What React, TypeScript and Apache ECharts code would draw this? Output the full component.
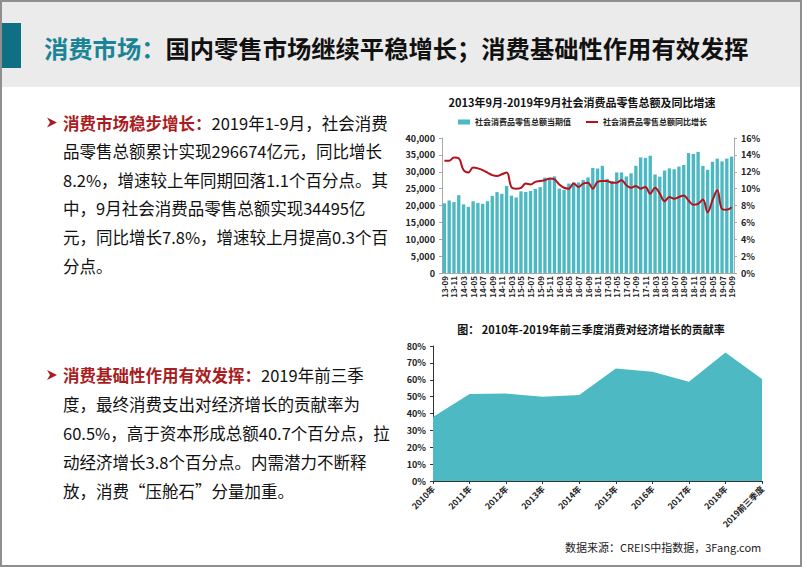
import React, { useEffect, useRef } from "react";
import * as echarts from "echarts";

const FONT = "'Noto Sans CJK SC', 'Microsoft YaHei', sans-serif";

const months = [
  "13-09", "13-10", "13-11", "13-12",
  "14-03", "14-04", "14-05", "14-06", "14-07", "14-08", "14-09", "14-10", "14-11", "14-12",
  "15-03", "15-04", "15-05", "15-06", "15-07", "15-08", "15-09", "15-10", "15-11", "15-12",
  "16-03", "16-04", "16-05", "16-06", "16-07", "16-08", "16-09", "16-10", "16-11", "16-12",
  "17-03", "17-04", "17-05", "17-06", "17-07", "17-08", "17-09", "17-10", "17-11", "17-12",
  "18-03", "18-04", "18-05", "18-06", "18-07", "18-08", "18-09", "18-10", "18-11", "18-12",
  "19-03", "19-04", "19-05", "19-06", "19-07", "19-08", "19-09",
];

const retailValues = [
  20653, 21491, 21012, 23060,
  20339, 19592, 21250, 20781, 20501, 21282, 22850, 23967, 23475, 25801,
  22917, 22386, 24195, 24000, 24308, 24893, 25451, 28278, 27937, 28635,
  25000, 24646, 26511, 26857, 26827, 27540, 28333, 31119, 30959, 31757,
  27864, 27278, 29805, 29808, 28611, 29540, 31764, 34240, 34108, 34734,
  29194, 28542, 30359, 31000, 30734, 31542, 32005, 35534, 35260, 35893,
  31726, 30586, 32956, 33878, 33073, 33896, 34495,
];

const yoyGrowth = [
  13.3, 13.3, 13.7, 13.6,
  12.2, 11.9, 12.5, 12.4, 12.2, 11.9, 11.6, 11.5, 11.7, 11.9,
  10.2, 10.0, 10.1, 10.6, 10.5, 10.8, 10.9, 11.0, 11.2, 11.1,
  10.5, 10.1, 10.0, 10.6, 10.2, 10.6, 10.7, 10.0, 10.8, 10.9,
  10.9, 10.7, 10.7, 11.0, 10.4, 10.1, 10.3, 10.0, 10.2, 9.4,
  10.1, 9.4, 8.5, 9.0, 8.8, 9.0, 9.2, 8.6, 8.1, 8.2,
  8.7, 7.2, 8.6, 9.8, 7.6, 7.5, 7.8,
];

const years = ["2010年", "2011年", "2012年", "2013年", "2014年", "2015年", "2016年", "2017年", "2018年", "2019前三季度"];
const contribution = [38.0, 51.6, 51.8, 50.0, 50.9, 66.6, 64.7, 58.8, 76.2, 60.5];

const barName = "社会消费品零售总额当期值";
const lineName = "社会消费品零售总额同比增长";

const headerTitleA = "消费市场：";
const headerTitleB = "国内零售市场继续平稳增长；消费基础性作用有效发挥";

const para1Head = "消费市场稳步增长：";
const para1Lines = [
  "2019年1-9月，社会消费",
  "品零售总额累计实现296674亿元，同比增长",
  "8.2%，增速较上年同期回落1.1个百分点。其",
  "中，9月社会消费品零售总额实现34495亿",
  "元，同比增长7.8%，增速较上月提高0.3个百",
  "分点。",
];
const para2Head = "消费基础性作用有效发挥：";
const para2Lines = [
  "2019年前三季",
  "度，最终消费支出对经济增长的贡献率为",
  "60.5%，高于资本形成总额40.7个百分点，拉",
  "动经济增长3.8个百分点。内需潜力不断释",
  "放，消费“压舱石”分量加重。",
];

const chart1Title = "2013年9月-2019年9月社会消费品零售总额及同比增速";
const chart2Title = "图： 2010年-2019年前三季度消费对经济增长的贡献率";
const sourceText = "数据来源：CREIS中指数据，3Fang.com";

const RED = "#a81c22";
const TEAL_BAR = "#4bb9c3";

function paragraph(head: string, lines: string[], y0: number, lh: number) {
  const els: any[] = [];
  els.push({
    type: "polygon",
    shape: {
      points: [
        [47, y0 - 5],
        [57, y0],
        [47, y0 + 5],
        [50, y0],
      ],
    },
    style: { fill: RED },
  });
  lines.forEach((ln, i) => {
    if (i === 0) {
      els.push({
        type: "text",
        x: 63,
        y: y0,
        style: {
          text: "{h|" + head + "}{b|" + ln + "}",
          verticalAlign: "middle",
          rich: {
            h: { fontFamily: FONT, fontSize: 16.5, fontWeight: "bold", fill: RED, color: RED },
            b: { fontFamily: FONT, fontSize: 16.5, fill: "#111", color: "#111" },
          },
        },
      });
    } else {
      els.push({
        type: "text",
        x: 63,
        y: y0 + i * lh,
        style: { text: ln, fill: "#111", fontFamily: FONT, fontSize: 16.5, verticalAlign: "middle" },
      });
    }
  });
  return els;
}

export default function App() {
  const ref = useRef<HTMLDivElement>(null);
  useEffect(() => {
    if (!ref.current) return;
    const chart = echarts.init(ref.current, undefined, { renderer: "svg" });
    const axisLbl = { fontFamily: FONT, fontSize: 9, fontWeight: "bold", color: "#222" };
    const graphics: any[] = [
      { type: "rect", z: -5, shape: { x: 0, y: 0, width: 802, height: 87 }, style: { fill: "#ebebeb" } },
      { type: "rect", shape: { x: 1, y: 23, width: 20, height: 45 }, style: { fill: "#0f6f83" } },
      {
        type: "text",
        x: 44,
        y: 47,
        style: {
          text: "{a|" + headerTitleA + "}{b|" + headerTitleB + "}",
          verticalAlign: "middle",
          rich: {
            a: { fontFamily: FONT, fontSize: 24.3, fontWeight: "bold", fill: "#1a8396", color: "#1a8396" },
            b: { fontFamily: FONT, fontSize: 24.3, fontWeight: "bold", fill: "#111", color: "#111" },
          },
        },
      },
      { type: "rect", shape: { x: 1, y: 1, width: 800, height: 565 }, style: { fill: "none", stroke: "#8f8f8f", lineWidth: 2 } },
      ...paragraph(para1Head, para1Lines, 122.5, 28.6),
      ...paragraph(para2Head, para2Lines, 375, 29),
      {
        type: "text",
        x: 582,
        y: 102,
        style: { text: chart1Title, fill: "#111", fontFamily: FONT, fontSize: 11, fontWeight: "bold", align: "center", verticalAlign: "middle" },
      },
      {
        type: "text",
        x: 591,
        y: 328.5,
        style: { text: chart2Title, fill: "#111", fontFamily: FONT, fontSize: 11, fontWeight: "bold", align: "center", verticalAlign: "middle" },
      },
      {
        type: "text",
        x: 565,
        y: 547,
        style: { text: sourceText, fill: "#222", fontFamily: FONT, fontSize: 11, verticalAlign: "middle" },
      },
    ];

    const option: any = {
      animation: false,
      backgroundColor: "#ffffff",
      textStyle: { fontFamily: FONT },
      graphic: graphics,
      legend: [
        {
          left: 458,
          top: 118,
          padding: 0,
          itemWidth: 12,
          itemHeight: 5,
          icon: "rect",
          data: [barName],
          textStyle: { fontFamily: FONT, fontSize: 8, fontWeight: "bold", color: "#222" },
        },
        {
          left: 586,
          top: 118,
          padding: 0,
          itemWidth: 12,
          itemHeight: 2,
          icon: "rect",
          data: [lineName],
          textStyle: { fontFamily: FONT, fontSize: 8, fontWeight: "bold", color: "#222" },
        },
      ],
      grid: [
        { left: 442, top: 138, width: 292, height: 135 },
        { left: 433, top: 346, width: 329, height: 135 },
      ],
      xAxis: [
        {
          type: "category",
          gridIndex: 0,
          data: months,
          axisLine: { lineStyle: { color: "#aaa" } },
          axisTick: { interval: 0, length: 2, lineStyle: { color: "#aaa" } },
          axisLabel: { ...axisLbl, fontSize: 8, interval: 1, rotate: 90, margin: 3 },
        },
        {
          type: "category",
          gridIndex: 1,
          data: years,
          boundaryGap: false,
          axisLine: { lineStyle: { color: "#333" } },
          axisTick: { interval: 0, length: 3, lineStyle: { color: "#333" } },
          axisLabel: { ...axisLbl, fontSize: 8.5, interval: 0, rotate: 45, margin: 6 },
        },
      ],
      yAxis: [
        {
          type: "value",
          gridIndex: 0,
          min: 0,
          max: 40000,
          interval: 5000,
          splitLine: { show: false },
          axisLine: { show: true, lineStyle: { color: "#aaa" } },
          axisTick: { show: true, length: 3, lineStyle: { color: "#aaa" } },
          axisLabel: { ...axisLbl, margin: 7 },
        },
        {
          type: "value",
          gridIndex: 0,
          position: "right",
          min: 0,
          max: 16,
          interval: 2,
          splitLine: { show: false },
          axisLine: { show: true, lineStyle: { color: "#aaa" } },
          axisTick: { show: true, length: 3, lineStyle: { color: "#aaa" } },
          axisLabel: { ...axisLbl, margin: 7, formatter: "{value}%" },
        },
        {
          type: "value",
          gridIndex: 1,
          min: 0,
          max: 80,
          interval: 10,
          splitLine: { show: false },
          axisLine: { show: true, lineStyle: { color: "#333" } },
          axisTick: { show: true, length: 3, lineStyle: { color: "#333" } },
          axisLabel: { ...axisLbl, margin: 7, formatter: "{value}%" },
        },
      ],
      series: [
        {
          type: "bar",
          name: barName,
          xAxisIndex: 0,
          yAxisIndex: 0,
          data: retailValues,
          barCategoryGap: "30%",
          itemStyle: { color: TEAL_BAR },
        },
        {
          type: "line",
          name: lineName,
          xAxisIndex: 0,
          yAxisIndex: 1,
          data: yoyGrowth,
          smooth: 0.4,
          symbol: "none",
          lineStyle: { color: "#b5121d", width: 2 },
          itemStyle: { color: "#b5121d" },
        },
        {
          type: "line",
          name: "贡献率",
          xAxisIndex: 1,
          yAxisIndex: 2,
          data: contribution,
          symbol: "none",
          lineStyle: { width: 0 },
          itemStyle: { color: "#4dbac3" },
          areaStyle: { color: "#4dbac3", opacity: 1 },
        },
      ],
    };
    chart.setOption(option);
    return () => chart.dispose();
  }, []);
  return <div ref={ref} style={{ position: "absolute", left: 0, top: 0, width: 802, height: 567 }} />;
}
